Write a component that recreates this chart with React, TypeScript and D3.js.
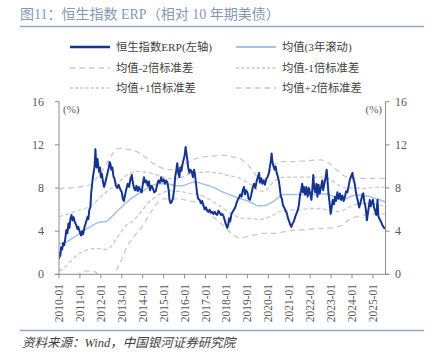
import React from "react";
import * as d3 from "d3";

// ERP series [decimal year, %]
const erp: [number, number][] = [
  [2010.0, 1.4], [2010.03, 2.0], [2010.06, 1.7], [2010.1, 2.5], [2010.15, 2.3], [2010.2, 2.9], [2010.25, 2.7],
  [2010.3, 3.3], [2010.35, 4.1], [2010.4, 3.8], [2010.45, 4.7], [2010.5, 4.3], [2010.55, 5.2], [2010.6, 5.5],
  [2010.65, 5.0], [2010.7, 5.3], [2010.76, 4.8], [2010.82, 4.6], [2010.88, 4.2], [2010.92, 4.4], [2011.0, 3.9],
  [2011.05, 3.6], [2011.1, 4.0], [2011.15, 3.7], [2011.22, 4.4], [2011.3, 4.9], [2011.36, 5.3], [2011.4, 5.1],
  [2011.45, 6.0], [2011.5, 6.2], [2011.54, 7.6], [2011.58, 8.3], [2011.62, 9.0], [2011.66, 9.5], [2011.7, 10.0],
  [2011.74, 11.6], [2011.77, 10.4], [2011.8, 9.9], [2011.84, 10.7], [2011.88, 10.0], [2011.92, 9.5], [2011.96, 9.9],
  [2012.0, 9.0], [2012.05, 9.3], [2012.1, 8.6], [2012.15, 8.1], [2012.2, 8.4], [2012.26, 8.9], [2012.32, 9.4],
  [2012.38, 9.9], [2012.42, 10.4], [2012.46, 10.2], [2012.5, 9.7], [2012.55, 9.9], [2012.6, 9.1], [2012.66, 8.8],
  [2012.72, 8.2], [2012.78, 8.0], [2012.85, 8.3], [2012.92, 7.9], [2013.0, 7.6], [2013.05, 7.0], [2013.1, 6.8],
  [2013.15, 7.3], [2013.22, 7.9], [2013.28, 8.4], [2013.35, 8.1], [2013.42, 8.9], [2013.48, 9.2], [2013.52, 8.6],
  [2013.58, 8.0], [2013.64, 7.8], [2013.7, 8.2], [2013.76, 7.7], [2013.82, 8.1], [2013.9, 7.7], [2013.95, 7.6],
  [2014.0, 8.3], [2014.06, 9.0], [2014.12, 8.5], [2014.18, 8.7], [2014.24, 8.2], [2014.3, 8.6], [2014.35, 7.8],
  [2014.42, 8.2], [2014.48, 8.0], [2014.55, 7.6], [2014.62, 7.7], [2014.68, 8.2], [2014.75, 8.7], [2014.82, 8.5],
  [2014.88, 9.0], [2014.94, 8.6], [2015.0, 8.8], [2015.06, 8.4], [2015.12, 8.7], [2015.18, 8.5], [2015.24, 7.8],
  [2015.28, 6.9], [2015.33, 6.6], [2015.38, 6.7], [2015.44, 7.0], [2015.5, 7.8], [2015.55, 9.0], [2015.6, 9.6],
  [2015.65, 10.3], [2015.7, 9.4], [2015.75, 9.0], [2015.8, 9.9], [2015.85, 9.6], [2015.9, 10.2], [2015.95, 10.6],
  [2016.0, 11.0], [2016.05, 11.8], [2016.09, 11.2], [2016.13, 10.6], [2016.18, 9.8], [2016.23, 9.4], [2016.28, 9.7],
  [2016.34, 9.5], [2016.4, 9.0], [2016.45, 9.7], [2016.5, 9.2], [2016.55, 8.3], [2016.6, 7.5], [2016.65, 7.0],
  [2016.72, 6.9], [2016.78, 6.6], [2016.84, 6.8], [2016.9, 6.4], [2016.96, 6.0], [2017.02, 6.2], [2017.08, 5.9],
  [2017.14, 5.8], [2017.2, 6.0], [2017.26, 5.7], [2017.32, 5.8], [2017.38, 5.6], [2017.44, 5.8], [2017.5, 5.6],
  [2017.56, 5.5], [2017.62, 5.9], [2017.68, 5.7], [2017.74, 5.5], [2017.8, 5.6], [2017.86, 5.4], [2017.92, 5.0],
  [2017.98, 4.6], [2018.04, 4.3], [2018.08, 4.5], [2018.13, 5.2], [2018.18, 4.9], [2018.24, 5.6], [2018.3, 5.8],
  [2018.36, 6.0], [2018.42, 6.2], [2018.48, 6.6], [2018.54, 6.9], [2018.6, 7.1], [2018.66, 7.4], [2018.72, 7.2],
  [2018.78, 7.8], [2018.84, 8.1], [2018.88, 7.4], [2018.93, 7.8], [2019.0, 7.6], [2019.06, 7.0], [2019.12, 6.9],
  [2019.18, 7.3], [2019.25, 8.0], [2019.32, 8.4], [2019.38, 8.0], [2019.44, 8.6], [2019.5, 9.0], [2019.56, 9.4],
  [2019.6, 8.5], [2019.66, 8.9], [2019.72, 8.4], [2019.78, 8.7], [2019.84, 8.3], [2019.9, 8.8], [2019.96, 9.0],
  [2020.02, 9.3], [2020.08, 10.0], [2020.12, 10.5], [2020.16, 11.2], [2020.2, 10.4], [2020.25, 10.0], [2020.3, 9.7],
  [2020.35, 10.0], [2020.4, 9.4], [2020.45, 9.1], [2020.5, 8.7], [2020.55, 8.0], [2020.6, 7.2], [2020.65, 7.0],
  [2020.7, 6.4], [2020.76, 6.2], [2020.82, 5.9], [2020.88, 5.7], [2020.94, 5.2], [2021.0, 4.9], [2021.05, 4.6],
  [2021.1, 4.4], [2021.16, 4.7], [2021.22, 4.9], [2021.28, 5.3], [2021.34, 5.6], [2021.4, 5.9], [2021.46, 6.4],
  [2021.52, 7.4], [2021.57, 7.8], [2021.62, 8.4], [2021.66, 7.6], [2021.7, 8.1], [2021.76, 7.4], [2021.82, 8.1],
  [2021.88, 7.2], [2021.94, 8.0], [2022.0, 7.5], [2022.06, 6.9], [2022.1, 7.8], [2022.15, 9.2], [2022.19, 8.0],
  [2022.24, 7.6], [2022.3, 8.4], [2022.35, 7.2], [2022.4, 8.3], [2022.46, 7.5], [2022.52, 8.1], [2022.58, 8.7],
  [2022.62, 7.8], [2022.68, 8.4], [2022.74, 9.0], [2022.79, 9.7], [2022.84, 8.4], [2022.88, 7.4], [2022.93, 6.6],
  [2022.98, 5.6], [2023.03, 6.2], [2023.08, 6.9], [2023.14, 6.5], [2023.19, 7.2], [2023.24, 6.8], [2023.3, 7.6],
  [2023.36, 7.0], [2023.42, 7.5], [2023.48, 6.9], [2023.54, 7.3], [2023.6, 6.8], [2023.66, 7.2], [2023.72, 7.7],
  [2023.78, 7.6], [2023.84, 8.2], [2023.9, 8.8], [2023.96, 9.1], [2024.02, 9.4], [2024.07, 8.8], [2024.12, 8.5],
  [2024.18, 7.7], [2024.23, 7.2], [2024.28, 6.8], [2024.34, 6.2], [2024.4, 6.6], [2024.45, 7.0], [2024.5, 7.4],
  [2024.54, 7.5], [2024.58, 6.8], [2024.63, 6.4], [2024.67, 5.9], [2024.71, 5.0], [2024.75, 5.5], [2024.8, 6.2],
  [2024.85, 6.9], [2024.9, 6.3], [2024.95, 6.7], [2025.0, 6.9], [2025.05, 6.2], [2025.1, 5.9], [2025.16, 5.5],
  [2025.22, 6.9], [2025.26, 5.4], [2025.32, 5.1], [2025.38, 4.9], [2025.44, 4.6], [2025.5, 4.4], [2025.57, 4.2],
];

// Quarterly band dates
const bandT = [
  2010.0, 2010.25, 2010.5, 2010.75, 2011.0, 2011.25, 2011.5, 2011.75, 2012.0, 2012.25, 2012.5, 2012.75,
  2013.0, 2013.25, 2013.5, 2013.75, 2014.0, 2014.25, 2014.5, 2014.75, 2015.0, 2015.25, 2015.5, 2015.75,
  2016.0, 2016.25, 2016.5, 2016.75, 2017.0, 2017.25, 2017.5, 2017.75, 2018.0, 2018.25, 2018.5, 2018.75,
  2019.0, 2019.25, 2019.5, 2019.75, 2020.0, 2020.25, 2020.5, 2020.75, 2021.0, 2021.25, 2021.5, 2021.75,
  2022.0, 2022.25, 2022.5, 2022.75, 2023.0, 2023.25, 2023.5, 2023.75, 2024.0, 2024.25, 2024.5, 2024.75,
  2025.0, 2025.25, 2025.57,
];
const meanV = [
  2.8, 2.95, 3.15, 3.5, 3.8, 4.15, 4.4, 4.7, 4.85, 4.9, 5.3, 5.8,
  6.25, 6.7, 7.1, 7.4, 7.7, 8.0, 8.25, 8.4, 8.4, 8.35, 8.25, 8.2,
  8.25, 8.45, 8.55, 8.45, 8.3, 8.15, 7.95, 7.7, 7.5, 7.3, 7.1, 6.95,
  6.8, 6.6, 6.35, 6.35, 6.5, 6.75, 7.15, 7.4, 7.4, 7.4, 7.4, 7.4,
  7.4, 7.4, 7.45, 7.45, 7.3, 7.05, 6.9, 7.05, 7.25, 7.35, 7.3, 7.25,
  7.1, 6.95, 6.72,
];
const plus1V = [
  5.35, 5.5, 5.65, 5.8, 6.0, 6.1, 6.4, 6.7, 7.2, 7.6, 8.0, 8.4,
  8.8, 9.2, 9.45, 9.55, 9.5, 9.45, 9.35, 9.15, 9.0, 8.9, 8.85, 8.9,
  9.1, 9.3, 9.4, 9.45, 9.5, 9.45, 9.4, 9.35, 9.2, 9.1, 9.0, 8.8,
  8.5, 8.2, 7.8, 7.7, 8.0, 8.6, 8.9, 9.0, 9.0, 9.0, 9.0, 9.0,
  9.0, 9.0, 9.0, 8.95, 8.75, 8.4, 8.1, 8.0, 8.0, 8.0, 7.95, 8.0,
  8.05, 8.05, 8.1,
];
const plus2V = [
  7.9, 8.0, 8.0, 8.05, 8.1, 8.2, 8.3, 8.8, 9.4, 10.2, 11.0, 11.6,
  11.7, 11.6, 11.5, 11.35, 11.0, 10.7, 10.3, 10.0, 9.8, 9.7, 9.7, 9.9,
  10.2, 10.5, 10.7, 10.85, 10.9, 10.95, 11.0, 11.05, 11.0, 10.9, 10.8, 10.6,
  10.2, 9.6, 9.0, 8.8, 9.3, 10.0, 10.4, 10.45, 10.45, 10.45, 10.5, 10.5,
  10.55, 10.6, 10.6, 10.45, 10.15, 9.7, 9.3, 9.0, 8.9, 8.9, 8.9, 8.9,
  8.9, 8.9, 8.9,
];
const minus1V = [
  0.3, 0.6, 1.1, 1.6, 1.95, 2.2, 2.35, 2.4, 2.35, 2.3, 2.6, 3.3,
  4.0, 4.6, 4.9, 5.4, 6.0, 6.6, 7.0, 7.35, 7.6, 7.75, 7.7, 7.7,
  7.6, 7.5, 7.45, 7.35, 7.15, 6.85, 6.55, 6.25, 5.9, 5.6, 5.35, 5.2,
  5.2, 5.15, 5.1, 5.1, 5.3, 5.5, 5.8, 5.9, 5.95, 6.0, 6.0, 6.05,
  6.1, 6.1, 6.1, 6.0, 5.85, 5.8, 5.9, 6.1, 6.35, 6.5, 6.55, 6.55,
  6.5, 6.45, 6.3,
];
const minus2V = [
  -2.3, -1.6, -1.0, -0.4, 0.1, 0.3, 0.3, 0.2, -0.3, -0.4, -0.2, 0.4,
  1.4, 2.6, 3.3, 3.9, 4.5, 5.3, 6.1, 6.7, 7.0, 7.0, 7.0, 7.0,
  6.9, 6.8, 6.7, 6.6, 6.0, 5.5, 5.1, 4.7, 4.2, 3.8, 3.45, 3.4,
  3.5, 3.6, 3.7, 3.8, 3.8, 3.8, 3.85, 3.95, 4.05, 4.1, 4.1, 4.15,
  4.2, 4.2, 4.25, 4.25, 4.3, 4.4, 4.55, 4.9, 5.2, 5.35, 5.45, 5.55,
  5.6, 5.6, 5.6,
];

const yTicks = [0, 4, 8, 12, 16];
const xTickYears = d3.range(2010, 2026);

const W = 433;
const H = 356;
const left = 59;
const right = 385.5;
const top = 101.7;
const bottom = 274.3;

const FONT = "'Liberation Serif', 'Noto Sans CJK SC', serif";
const CJK = "'Liberation Serif', 'Noto Sans CJK SC', sans-serif";
const AXIS = "#8c8c8c";
const TXT = "#595959";
const BAND = "#c9c9c9";
const ERP_C = "#14348f";
const MEAN_C = "#a6c1ea";
const RULE = "#8fa5cb";

export default function App() {
  const x = d3.scaleLinear().domain([2010, 2025.6]).range([left, right]);
  const y = d3.scaleLinear().domain([0, 16]).range([bottom, top]);

  const erpLine = d3
    .line<[number, number]>()
    .x((d) => x(d[0]))
    .y((d) => y(d[1]));

  const bandLine = (vals: number[]) =>
    d3
      .line<number>()
      .x((_, i) => x(bandT[i]))
      .y((d) => y(d))
      .curve(d3.curveMonotoneX)(vals) || "";

  const dash2 = "5.5,4";
  const dash1 = "4,2.5";

  const legendRows = [
    { x: 70, y: 47, label: "恒生指数ERP(左轴)", stroke: ERP_C, w: 2.4, dash: undefined },
    { x: 236, y: 47, label: "均值(3年滚动)", stroke: MEAN_C, w: 2, dash: undefined },
    { x: 70, y: 68, label: "均值-2倍标准差", stroke: BAND, w: 1.3, dash: dash2 },
    { x: 236, y: 68, label: "均值-1倍标准差", stroke: BAND, w: 1.3, dash: "3,2.2" },
    { x: 70, y: 88, label: "均值+1倍标准差", stroke: BAND, w: 1.3, dash: "3,2.2" },
    { x: 236, y: 88, label: "均值+2倍标准差", stroke: BAND, w: 1.3, dash: dash2 },
  ];

  return (
    <svg
      width={W}
      height={H}
      style={{ position: "absolute", left: 0, top: 0, background: "#fff" }}
      xmlns="http://www.w3.org/2000/svg"
    >
      <defs>
        <clipPath id="plotClip">
          <rect x={left} y={top - 5} width={right - left} height={bottom - top + 5} />
        </clipPath>
      </defs>

      {/* Title */}
      <text x={20} y={19} fontFamily={CJK} fontSize={14} fill="#8497b5">
        图11：恒生指数 ERP（相对 10 年期美债）
      </text>
      <line x1={20} x2={424} y1={26.5} y2={26.5} stroke={RULE} strokeWidth={1.5} />

      {/* Legend */}
      {legendRows.map((r) => (
        <g key={r.label}>
          <line
            x1={r.x}
            x2={r.x + 40}
            y1={r.y}
            y2={r.y}
            stroke={r.stroke}
            strokeWidth={r.w}
            strokeDasharray={r.dash}
          />
          <text x={r.x + 46} y={r.y + 4} fontFamily={CJK} fontSize={11.3} fill="#404040">
            {r.label}
          </text>
        </g>
      ))}

      {/* Series */}
      <g clipPath="url(#plotClip)" fill="none">
        <path d={bandLine(plus2V)} stroke={BAND} strokeWidth={1.3} strokeDasharray={dash2} />
        <path d={bandLine(plus1V)} stroke={BAND} strokeWidth={1.3} strokeDasharray={dash1} />
        <path d={bandLine(minus1V)} stroke={BAND} strokeWidth={1.3} strokeDasharray={dash1} />
        <path d={bandLine(minus2V)} stroke={BAND} strokeWidth={1.3} strokeDasharray={dash2} />
        <path d={bandLine(meanV)} stroke={MEAN_C} strokeWidth={1.5} />
        <path d={erpLine(erp) || ""} stroke={ERP_C} strokeWidth={2} strokeLinejoin="round" />
      </g>

      {/* Axes */}
      <line x1={left} x2={left} y1={top} y2={bottom} stroke={AXIS} strokeWidth={1} />
      <line x1={right} x2={right} y1={top} y2={bottom} stroke={AXIS} strokeWidth={1} />
      <line x1={left - 4} x2={right + 4} y1={bottom} y2={bottom} stroke={AXIS} strokeWidth={1} />
      {yTicks.map((t) => (
        <g key={"y" + t}>
          <line x1={left - 4} x2={left} y1={y(t)} y2={y(t)} stroke={AXIS} />
          <line x1={right} x2={right + 4} y1={y(t)} y2={y(t)} stroke={AXIS} />
          <text x={44} y={y(t) + 4} textAnchor="end" fontFamily={FONT} fontSize={12} fill={TXT}>
            {t}
          </text>
          <text x={395} y={y(t) + 4} textAnchor="start" fontFamily={FONT} fontSize={12} fill={TXT}>
            {t}
          </text>
        </g>
      ))}
      <text x={63} y={113} fontFamily={FONT} fontSize={11} fill={TXT}>
        (%)
      </text>
      <text x={382} y={113} textAnchor="end" fontFamily={FONT} fontSize={11} fill={TXT}>
        (%)
      </text>
      {xTickYears.map((yr) => (
        <g key={"x" + yr}>
          <line x1={x(yr)} x2={x(yr)} y1={bottom} y2={bottom + 4} stroke={AXIS} />
          <text
            transform={`translate(${x(yr) + 4},${284}) rotate(-90)`}
            textAnchor="end"
            fontFamily={FONT}
            fontSize={11.5}
            fill={TXT}
          >
            {`${yr}-01`}
          </text>
        </g>
      ))}

      {/* Footer */}
      <line x1={20} x2={424} y1={330.5} y2={330.5} stroke={RULE} strokeWidth={1.5} />
      <text x={22} y={347} fontFamily={CJK} fontSize={12.5} fontStyle="italic" fill="#404040">
        资料来源：Wind，中国银河证券研究院
      </text>
    </svg>
  );
}
